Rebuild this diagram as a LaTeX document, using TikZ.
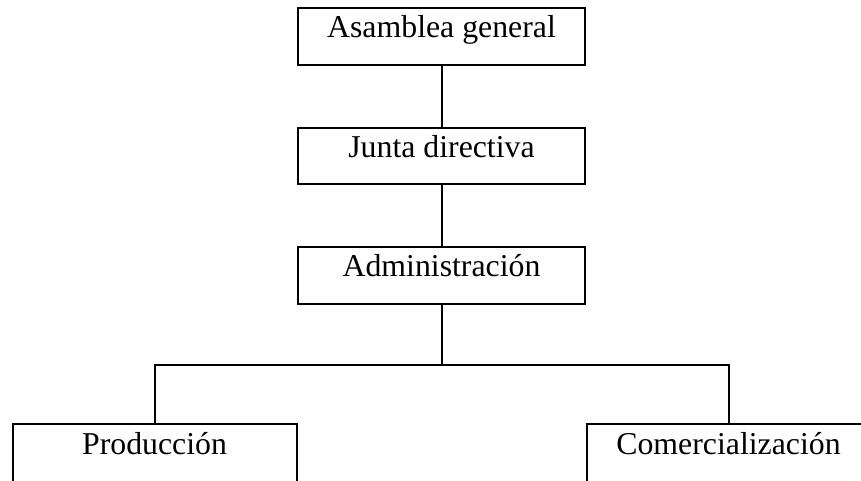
\documentclass[tikz,border=0pt]{standalone}
\usepackage{fontspec}
\setmainfont{Liberation Serif}
\usetikzlibrary{positioning}

\begin{document}
\begin{tikzpicture}[
        x = 1pt, y = -1pt, % one unit per pixel, y downwards
        line width = 2pt, % line style
        node distance = 61pt % distance between boxes
    ]

    \tikzstyle{unit}=[
        draw = black,
        rectangle,
        inner sep = 0pt,
        minimum width = 286.4pt,
        text height = 29.3pt,
        text depth = 27.1pt,
        font = \fontsize{31.8pt}{38pt}\selectfont
    ]
    \tikzstyle{area}=[
        unit,
        minimum width = 284pt,
        text height = 30.7pt,
        text depth = 28pt
    ]

    \clip (0,0) rectangle (861,480);

    \node[unit, anchor=north] (asamblea) at (441.5,7.3) {Asamblea general};
    \node[unit] (junta) [below=of asamblea] {Junta directiva};
    \node[unit] (admin) [below=of junta] {Administración};
    \node[area] (produccion) [below=118.6pt of admin, xshift=-287pt] {Producción};
    \node[area] (comercial) [below=118.6pt of admin, xshift=287pt] {Comercialización};

    \coordinate (bus) at (441.5,364.7);

    \draw (asamblea) -- (junta);
    \draw (junta) -- (admin);
    \draw (admin) -- (bus);
    \draw (produccion.north) |- (bus) -| (comercial.north);
\end{tikzpicture}
\end{document}
